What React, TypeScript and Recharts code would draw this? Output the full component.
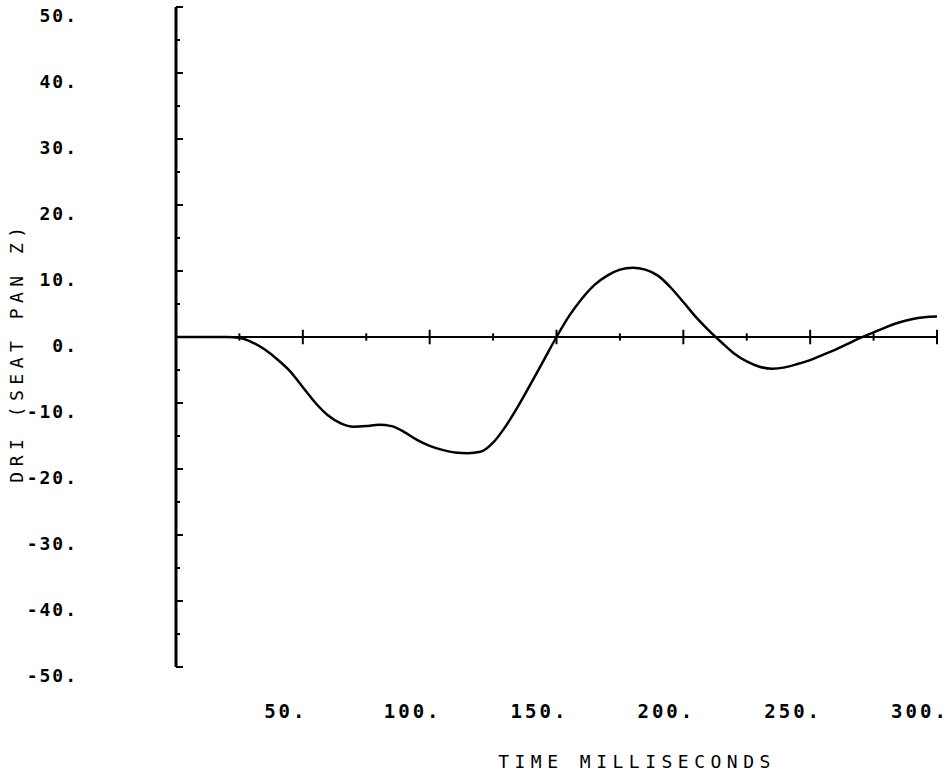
import { LineChart, Line, XAxis, YAxis, ReferenceLine } from 'recharts'

// time axis (ms) and the DRI trace
const timeMs = [
  0, 5, 10, 15, 20, 25, 30, 35, 40, 45, 50, 55, 60, 65, 70, 75, 80, 85, 90, 95,
  100, 105, 110, 115, 120, 125, 130, 135, 140, 145, 150, 155, 160, 165, 170, 175, 180, 185, 190, 195,
  200, 205, 210, 215, 220, 225, 230, 235, 240, 245, 250, 255, 260, 265, 270, 275, 280, 285, 290, 295, 300,
]
const driSeatPanZ = [
  0, 0, 0, 0, 0, -0.1, -0.8, -1.9, -3.4, -5.2, -7.6, -10.0, -11.9, -13.1, -13.6, -13.5, -13.3, -13.5, -14.4, -15.6,
  -16.5, -17.1, -17.5, -17.6, -17.4, -16.0, -13.5, -10.4, -7.0, -3.5, 0, 3.2, 5.8, 7.9, 9.3, 10.2, 10.5, 10.2, 9.3, 7.5,
  5.3, 3.0, 1.0, -0.8, -2.5, -3.7, -4.5, -4.8, -4.6, -4.1, -3.5, -2.7, -1.9, -1.0, -0.1, 0.7, 1.5, 2.2, 2.7, 3.0, 3.1,
]

const xTicks = [0, 25, 50, 75, 100, 125, 150, 175, 200, 225, 250, 275, 300]
const xLabels = [50, 100, 150, 200, 250, 300]
const yTicks = [-50, -45, -40, -35, -30, -25, -20, -15, -10, -5, 0, 5, 10, 15, 20, 25, 30, 35, 40, 45, 50]

const data = timeMs.map((t, i) => ({ t, v: driSeatPanZ[i] }))

const font = "'DejaVu Sans Mono', monospace"

function YTick(props: any) {
  const { x, y, payload } = props
  const v = payload.value
  const major = v % 10 === 0
  return (
    <g>
      <line x1={x} x2={x + (major ? 7 : 4)} y1={y} y2={y} stroke="#000" strokeWidth={2} />
      {major && (
        <text x={x - 98} y={y + 15} textAnchor="end" fontFamily={font} fontSize={18} fontWeight="bold" letterSpacing={2} fill="#000">
          {v}.
        </text>
      )}
    </g>
  )
}

function XTick(props: any) {
  const { x, y, payload } = props
  if (!xLabels.includes(payload.value)) return <g />
  return (
    <text x={x - 17} y={y + 51} textAnchor="middle" fontFamily={font} fontSize={19} fontWeight="bold" letterSpacing={3} fill="#000">
      {payload.value}.
    </text>
  )
}

function XTitle(props: any) {
  const vb = props.viewBox
  return (
    <text x={vb.x + 461} y={vb.y + 101} textAnchor="middle" fontFamily={font} fontSize={18} letterSpacing={5.5} fill="#000">
      TIME MILLISECONDS
    </text>
  )
}

function YTitle(props: any) {
  const vb = props.viewBox
  const x = vb.x + 23
  const y = vb.y + 345
  return (
    <text x={x} y={y} transform={`rotate(-90 ${x} ${y})`} textAnchor="middle" fontFamily={font} fontSize={18} letterSpacing={5.5} fill="#000">
      DRI (SEAT PAN Z)
    </text>
  )
}

export default function App() {
  return (
    <div style={{ position: 'absolute', left: 0, top: 0, background: '#fff' }}>
      <LineChart width={951} height={783} data={data} margin={{ top: 7, right: 14, bottom: 0, left: 0 }}>
        <XAxis
          dataKey="t"
          type="number"
          domain={[0, 300]}
          ticks={xTicks}
          axisLine={false}
          tickLine={false}
          tickSize={0}
          tickMargin={0}
          height={116}
          interval={0}
          tick={<XTick />}
          label={<XTitle />}
        />
        <YAxis
          type="number"
          domain={[-50, 50]}
          ticks={yTicks}
          width={176}
          interval={0}
          tickSize={0}
          tickMargin={0}
          tickLine={false}
          axisLine={{ stroke: '#000', strokeWidth: 3 }}
          tick={<YTick />}
          label={<YTitle />}
        />
        <ReferenceLine y={0} stroke="#000" strokeWidth={2} />
        {xTicks.filter((t) => t > 0).map((t) => {
          const h = t % 50 === 0 ? 1.1 : 0.55
          return (
            <ReferenceLine
              key={t}
              segment={[{ x: t, y: -h }, { x: t, y: h }]}
              stroke="#000"
              strokeWidth={2}
            />
          )
        })}
        <Line
          type="monotone"
          dataKey="v"
          stroke="#000"
          strokeWidth={2.5}
          dot={false}
          isAnimationActive={false}
        />
      </LineChart>
    </div>
  )
}
